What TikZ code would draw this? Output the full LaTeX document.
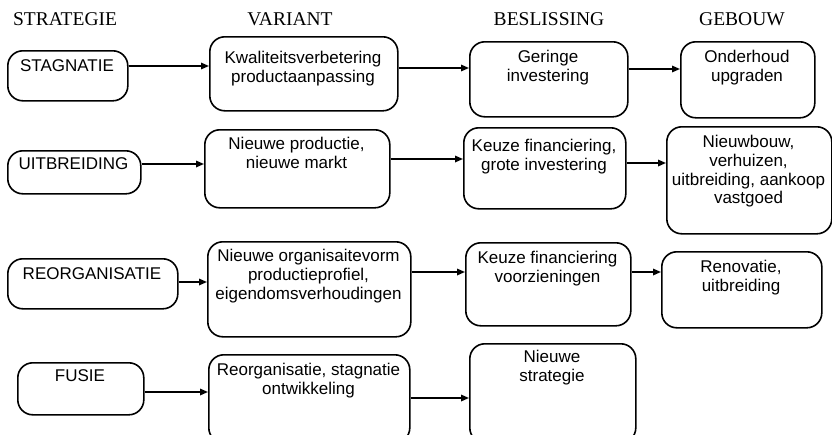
\documentclass[tikz,border=0pt]{standalone}
\usepackage{fontspec}
\setmainfont{Liberation Serif}
\newfontfamily\boxfont{Liberation Sans}
\usetikzlibrary{arrows.meta}

\tikzset{
  box/.style={draw, line width=1.6pt, rounded corners=15pt, inner sep=0pt},
  lbl/.style={font=\boxfont\fontsize{17}{18.8}\selectfont, align=center, inner sep=0pt, anchor=north},
  head/.style={font=\fontsize{19.5}{20}\selectfont, inner sep=0pt},
  arr/.style={line width=1.6pt, -{Triangle[length=8pt,width=6.5pt]}},
}

% #1 name, (#2,#3) top-left, (#4,#5) bottom-right, #6 top of first text line, #7 text
\newcommand\flowbox[7]{%
  \node[box, minimum width={(#4-#2)*1pt}, minimum height={(#5-#3)*1pt}, anchor=north west] (#1) at (#2,#3) {};
  \node[lbl] (#1-txt) at ({(#2+#4)/2},#6) {#7};%
}

\begin{document}
\begin{tikzpicture}[x=1pt, y=-1pt]
  \useasboundingbox (0,0) rectangle (832,434);
  \clip (0,0) rectangle (832,434);

  % column headings
  \node[head] (h1) at (65,19)  {STRATEGIE};
  \node[head] (h2) at (290,19) {VARIANT};
  \node[head] (h3) at (549,19) {BESLISSING};
  \node[head] (h4) at (742,19) {GEBOUW};

  % row 1
  \flowbox{s1}{7}{50}{127}{100}{59}{STAGNATIE}
  \flowbox{v1}{209}{36}{397}{110}{51}{Kwaliteitsverbetering\\productaanpassing}
  \flowbox{b1}{469}{41}{627}{116}{50}{Geringe\\investering}
  \flowbox{g1}{680}{41}{814}{117}{50}{Onderhoud\\upgraden}

  % row 2
  \flowbox{s2}{7}{150}{140}{193}{157}{UITBREIDING}
  \flowbox{v2}{204}{129}{389}{207}{137}{Nieuwe productie,\\nieuwe markt}
  \flowbox{b2}{463}{127}{625}{208}{139}{Keuze financiering,\\grote investering}
  \flowbox{g2}{666}{126}{831}{233}{135}{Nieuwbouw,\\verhuizen,\\uitbreiding, aankoop\\vastgoed}

  % row 3
  \flowbox{s3}{7}{258}{177}{308}{267}{REORGANISATIE}
  \flowbox{v3}{207}{241}{410}{336}{249}{Nieuwe organisaitevorm\\productieprofiel,\\eigendomsverhoudingen}
  \flowbox{b3}{465}{242}{630}{325}{251}{Keuze financiering\\voorzieningen}
  \flowbox{g3}{661}{251}{821}{327}{260}{Renovatie,\\uitbreiding}

  % row 4
  \flowbox{s4}{17}{362}{143}{414}{369}{FUSIE}
  \flowbox{v4}{208}{354}{409}{442}{363}{Reorganisatie, stagnatie\\ontwikkeling}
  \flowbox{b4}{469}{343}{635}{442}{350}{Nieuwe\\strategie}

  % heights of the connectors
  \coordinate (y1a) at (0,66);  \coordinate (y1b) at (0,68);  \coordinate (y1c) at (0,69);
  \coordinate (y2a) at (0,164); \coordinate (y2b) at (0,159); \coordinate (y2c) at (0,163);
  \coordinate (y3a) at (0,282); \coordinate (y3b) at (0,272); \coordinate (y3c) at (0,272);
  \coordinate (y4a) at (0,392); \coordinate (y4b) at (0,398);

  \draw[arr] (s1.east |- y1a) -- (v1.west |- y1a);
  \draw[arr] (v1.east |- y1b) -- (b1.west |- y1b);
  \draw[arr] (b1.east |- y1c) -- (g1.west |- y1c);

  \draw[arr] (s2.east |- y2a) -- (v2.west |- y2a);
  \draw[arr] (v2.east |- y2b) -- (b2.west |- y2b);
  \draw[arr] (b2.east |- y2c) -- (g2.west |- y2c);

  \draw[arr] (s3.east |- y3a) -- (v3.west |- y3a);
  \draw[arr] (v3.east |- y3b) -- (b3.west |- y3b);
  \draw[arr] (b3.east |- y3c) -- (g3.west |- y3c);

  \draw[arr] (s4.east |- y4a) -- (v4.west |- y4a);
  \draw[arr] (v4.east |- y4b) -- (b4.west |- y4b);
\end{tikzpicture}
\end{document}
